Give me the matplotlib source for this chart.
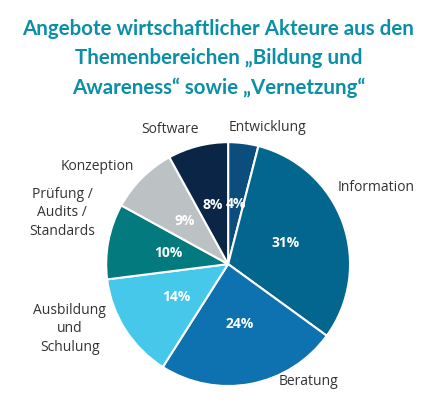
import numpy as np
import matplotlib.pyplot as plt

# Daten (im Uhrzeigersinn ab 12 Uhr)
kategorien = ['Entwicklung', 'Information', 'Beratung', 'Ausbildung\nund\nSchulung',
              'Prüfung /\nAudits /\nStandards', 'Konzeption', 'Software']
anteile = [4, 31, 24, 14, 10, 9, 8]
farben = ['#0b4d7c', '#03668e', '#0f72b0', '#45c8ea', '#037a7d', '#bcc1c3', '#0b2546']

titel = 'Angebote wirtschaftlicher Akteure aus den\nThemenbereichen „Bildung und\nAwareness“ sowie „Vernetzung“'

plt.rcParams['font.family'] = ['Open Sans', 'DejaVu Sans']

fig = plt.figure(figsize=(4.37, 4.12), dpi=100)
ax = fig.add_axes([0.522 - 0.279, 0.359 - 0.296, 0.558, 0.592])

wedges, texte, prozente = ax.pie(
    anteile, labels=kategorien, colors=farben, startangle=90, counterclock=False,
    autopct='%d%%', pctdistance=0.5, labeldistance=1.1,
    wedgeprops=dict(edgecolor='white', linewidth=1.5),
    textprops=dict(fontsize=10, color='#333333'))

for t in prozente:
    t.set_color('white')
    t.set_fontweight('bold')
    t.set_fontsize(10)

# Beschriftungen etwas verschieben wie im Original
pos = [(0.32, 1.12), (1.21, 0.63), (0.66, -0.96), (-1.30, -0.53),
       (-1.36, 0.42), (-1.07, 0.80), (-0.48, 1.10)]
for t, p in zip(texte, pos):
    t.set_position(p)
    t.set_ha('center')
    t.set_va('center')
    t.set_linespacing(1.3)

ax.set_xlim(-1, 1)
ax.set_ylim(-1, 1)
ax.set_aspect('equal')

fig.text(0.5, 0.858, titel, ha='center', va='center', fontsize=14.8, fontweight='bold',
         color='#0a8fa6', linespacing=1.6, family=['Lato', 'DejaVu Sans'])

fig.savefig('out.png', dpi=100)
